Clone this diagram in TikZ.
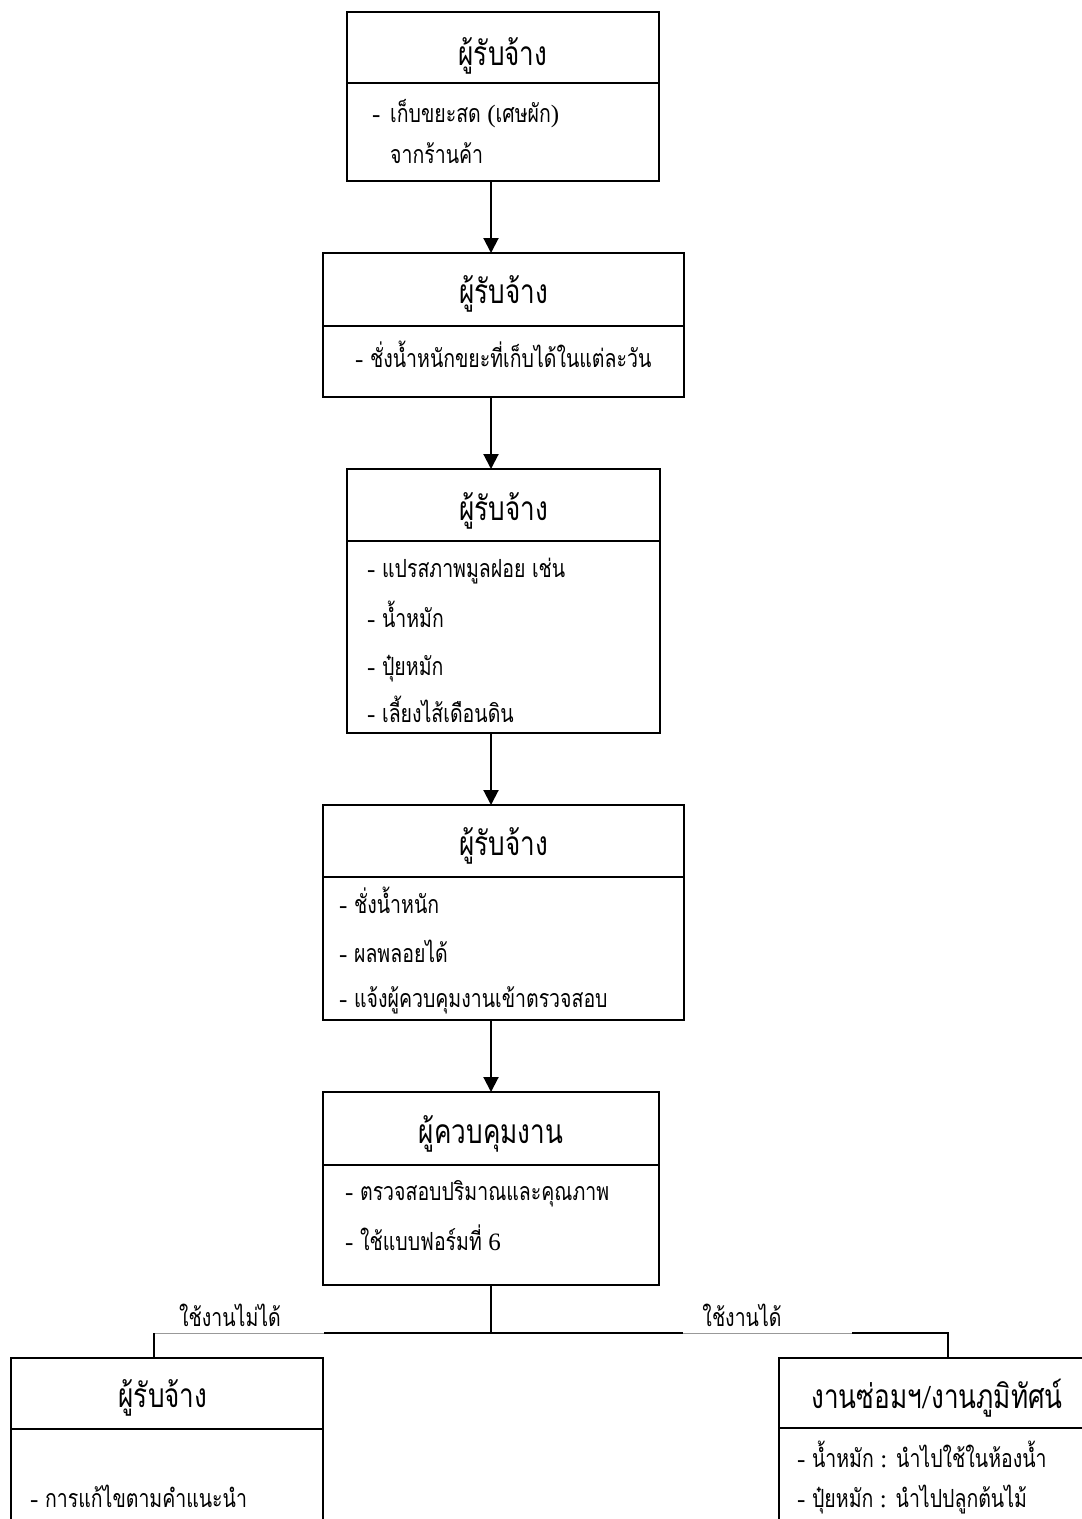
\documentclass[tikz,border=0pt]{standalone}
\usepackage{fontspec}
\newfontfamily\thaifont[Script=Thai, FakeStretch=0.78]{Loma}
\newfontfamily\latfont{Liberation Serif}
\newcommand\lat[1]{{\latfont #1}}
\usetikzlibrary{arrows.meta}

\tikzset{
  part/.style={draw, line width=2pt, inner sep=0pt, outer sep=0pt},
  ttl/.style={font=\thaifont\fontsize{33.5}{38}\selectfont, anchor=base, inner sep=0pt},
  itm/.style={font=\thaifont\fontsize{25}{30}\selectfont, anchor=base west, inner sep=0pt},
  lbl/.style={font=\thaifont\fontsize{25}{30}\selectfont, anchor=base, inner sep=0pt},
  conn/.style={line width=2pt},
  arr/.style={line width=2pt, -{Triangle[length=15pt,width=15pt]}},
  gapline/.style={draw=black!40, line width=0.8pt},
}

\begin{document}
\begin{tikzpicture}[x=1pt, y=-1pt]
\useasboundingbox (0,0) rectangle (1082,1519);
\clip (0,0) rectangle (1082,1519);

% vertical axis of the main chain
\coordinate (axis) at (491,0);

% box 1
\node[part, minimum width=312pt, minimum height=71pt] (h1) at (503,47.5) {};
\node[part, minimum width=312pt, minimum height=98pt, anchor=north] (b1) at (h1.south) {};
\node[ttl] at (503,65) {ผู้รับจ้าง};
\node[itm] at (372,122) {\makebox[18pt][l]{\lat{-}}เก็บขยะสด \lat{(}เศษผัก\lat{)}};
\node[itm] at (390,163) {จากร้านค้า};

% box 2
\node[part, minimum width=361pt, minimum height=73pt] (h2) at (503.5,289.5) {};
\node[part, minimum width=361pt, minimum height=71pt, anchor=north] (b2) at (h2.south) {};
\node[ttl] at (503.5,303) {ผู้รับจ้าง};
\node[itm] at (355,367) {\lat{-} ชั่งน้ำหนักขยะที่เก็บได้ในแต่ละวัน};

% box 3
\node[part, minimum width=313pt, minimum height=72pt] (h3) at (503.5,505) {};
\node[part, minimum width=313pt, minimum height=192pt, anchor=north] (b3) at (h3.south) {};
\node[ttl] at (503.5,520) {ผู้รับจ้าง};
\node[itm] at (367,577) {\lat{-} แปรสภาพมูลฝอย เช่น};
\node[itm] at (367,627) {\lat{-} น้ำหมัก};
\node[itm] at (367,675) {\lat{-} ปุ๋ยหมัก};
\node[itm] at (367,722) {\lat{-} เลี้ยงไส้เดือนดิน};

% box 4
\node[part, minimum width=361pt, minimum height=72pt] (h4) at (503.5,841) {};
\node[part, minimum width=361pt, minimum height=143pt, anchor=north] (b4) at (h4.south) {};
\node[ttl] at (503.5,855) {ผู้รับจ้าง};
\node[itm] at (339,913) {\lat{-} ชั่งน้ำหนัก};
\node[itm] at (339,962) {\lat{-} ผลพลอยได้};
\node[itm] at (339,1007) {\lat{-} แจ้งผู้ควบคุมงานเข้าตรวจสอบ};

% box 5
\node[part, minimum width=336pt, minimum height=73pt] (h5) at (491,1128.5) {};
\node[part, minimum width=336pt, minimum height=120pt, anchor=north] (b5) at (h5.south) {};
\node[ttl] at (491,1143) {ผู้ควบคุมงาน};
\node[itm] at (345,1200) {\lat{-} ตรวจสอบปริมาณและคุณภาพ};
\node[itm] at (345,1250) {\lat{-} ใช้แบบฟอร์มที่ \lat{6}};

% box 6 (left branch)
\node[part, minimum width=312pt, minimum height=71pt] (h6) at (167,1393.5) {};
\node[part, minimum width=312pt, minimum height=120pt, anchor=north] (b6) at (h6.south) {};
\node[ttl] at (163,1407) {ผู้รับจ้าง};
\node[itm] at (30,1507) {\lat{-} การแก้ไขตามคำแนะนำ};

% box 7 (right branch)
\node[part, minimum width=316pt, minimum height=70pt] (h7) at (937,1393) {};
\node[part, minimum width=316pt, minimum height=120pt, anchor=north] (b7) at (h7.south) {};
\node[ttl] at (937,1408) {งานซ่อมฯ\lat{/}งานภูมิทัศน์};
\node[itm] at (797,1467) {\lat{-} น้ำหมัก \lat{:} นำไปใช้ในห้องน้ำ};
\node[itm] at (797,1507) {\lat{-} ปุ๋ยหมัก \lat{:} นำไปปลูกต้นไม้};

% arrows of the main chain
\draw[arr] (axis |- b1.south) -- (axis |- h2.north);
\draw[arr] (axis |- b2.south) -- (axis |- h3.north);
\draw[arr] (axis |- b3.south) -- (axis |- h4.north);
\draw[arr] (axis |- b4.south) -- (axis |- h5.north);

% branching
\coordinate (tee) at (491,1333);
\coordinate (lcorner) at (154,1333);
\coordinate (rcorner) at (948,1333);
\coordinate (gl) at (324,1333);
\coordinate (gr1) at (683,1333);
\coordinate (gr2) at (852,1333);
\draw[conn] (b5.south) -- (tee);
\draw[conn] (gl) -- (gr1);
\draw[gapline] (lcorner) -- (gl);
\draw[gapline] (gr1) -- (gr2);
\draw[conn] (lcorner) -- (lcorner |- h6.north);
\draw[conn] (gr2) -- (rcorner) -- (rcorner |- h7.north);
\node[lbl] (l1) at (230,1326) {ใช้งานไม่ได้};
\node[lbl] (l2) at (742,1326) {ใช้งานได้};
\end{tikzpicture}
\end{document}
